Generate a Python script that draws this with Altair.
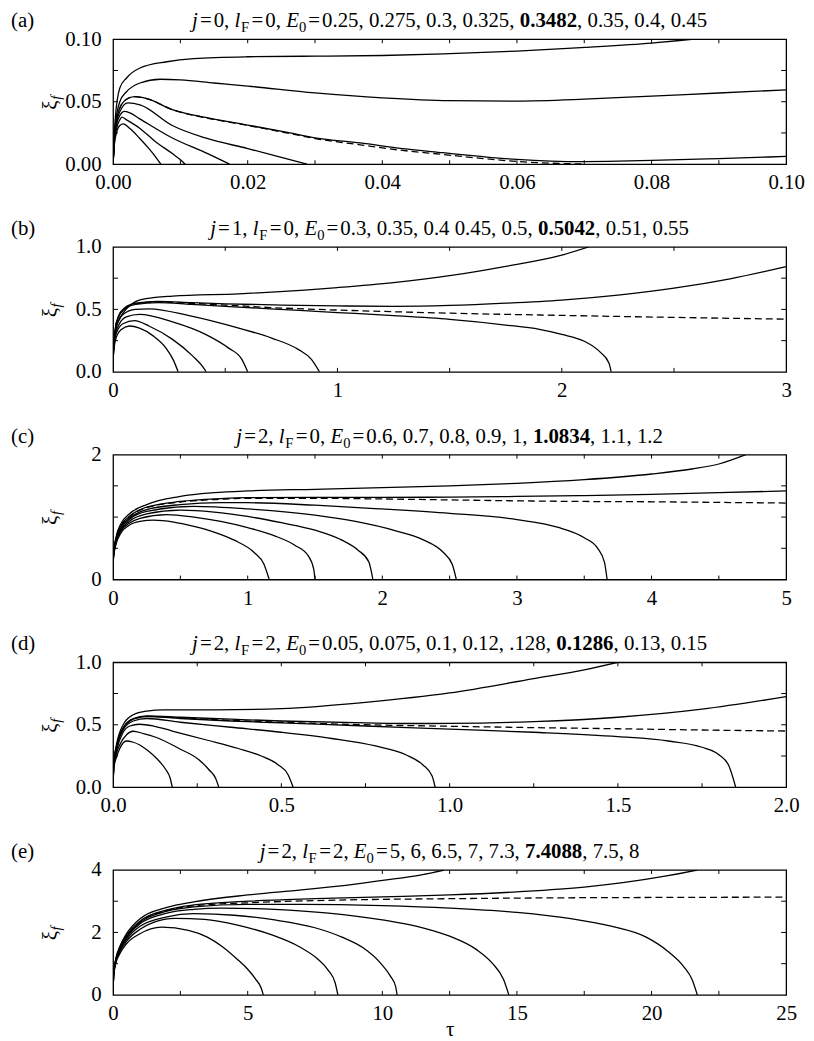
import altair as alt
import pandas as pd

FONT = "Liberation Serif, Times New Roman, Times, serif"
W, H = 679, 126
FS = 21

# ---------------- panel (a): j=0, lF=0 ----------------
a_t_0250 = [0, 0.0002, 0.0005, 0.001, 0.0015, 0.0025, 0.0039, 0.0054, 0.0065, 0.0071]
a_x_0250 = [0, 0.016, 0.025, 0.031, 0.0323, 0.0285, 0.021, 0.012, 0.0045, 0]
a_t_0275 = [0, 0.0002, 0.0005, 0.001, 0.0013, 0.002, 0.0039, 0.0063, 0.0088, 0.0100, 0.0107]
a_x_0275 = [0, 0.018, 0.028, 0.0355, 0.0376, 0.0355, 0.029, 0.018, 0.0085, 0.0035, 0]
a_t_0300 = [0, 0.0002, 0.0005, 0.001, 0.0017, 0.0025, 0.0039, 0.0088, 0.0137, 0.016, 0.0173]
a_x_0300 = [0, 0.02, 0.031, 0.039, 0.0423, 0.041, 0.0365, 0.021, 0.0093, 0.0035, 0]
a_t_0325 = [0, 0.0002, 0.0005, 0.001, 0.0022, 0.004, 0.0088, 0.0137, 0.02, 0.025, 0.0288]
a_x_0325 = [0, 0.021, 0.033, 0.042, 0.049, 0.0475, 0.031, 0.021, 0.0125, 0.0055, 0]
a_t_3482 = [0, 0.0002, 0.0005, 0.001, 0.002, 0.0032, 0.005, 0.0088, 0.0137, 0.02, 0.0263, 0.03, 0.0367, 0.043, 0.049, 0.055, 0.06, 0.065, 0.07]
a_x_3482 = [0, 0.022, 0.035, 0.045, 0.052, 0.054, 0.0525, 0.0437, 0.0372, 0.031, 0.0245, 0.0205, 0.0155, 0.011, 0.0078, 0.0045, 0.0022, 0.0008, 0.0002]
a_t_0350 = [0, 0.0002, 0.0005, 0.001, 0.002, 0.0032, 0.005, 0.0088, 0.0137, 0.02, 0.0263, 0.03, 0.0367, 0.043, 0.049, 0.055, 0.06, 0.065, 0.07, 0.075, 0.08, 0.09, 0.1]
a_x_0350 = [0, 0.022, 0.035, 0.045, 0.052, 0.054, 0.0525, 0.0437, 0.0374, 0.0313, 0.025, 0.021, 0.017, 0.0125, 0.0092, 0.006, 0.0038, 0.0025, 0.0021, 0.0024, 0.003, 0.0045, 0.0062]
a_t_0400 = [0, 0.0003, 0.001, 0.002, 0.004, 0.007, 0.01, 0.015, 0.02, 0.03, 0.04, 0.05, 0.06, 0.07, 0.08, 0.09, 0.1]
a_x_0400 = [0, 0.03, 0.05, 0.058, 0.065, 0.068, 0.0675, 0.065, 0.0625, 0.057, 0.053, 0.0508, 0.0505, 0.052, 0.0545, 0.057, 0.0595]
a_t_0450 = [0, 0.0003, 0.001, 0.002, 0.004, 0.008, 0.012, 0.02, 0.03, 0.04, 0.05, 0.06, 0.07, 0.08, 0.086]
a_x_0450 = [0, 0.035, 0.061, 0.069, 0.077, 0.082, 0.0845, 0.086, 0.0865, 0.087, 0.0885, 0.0905, 0.0935, 0.097, 0.1]

# ---------------- panel (b): j=1, lF=0 ----------------
b_t_0300 = [0, 0.002, 0.015, 0.037, 0.074, 0.118, 0.177, 0.236, 0.27, 0.29]
b_x_0300 = [0, 0.15, 0.28, 0.34, 0.367, 0.35, 0.29, 0.19, 0.09, 0]
b_t_0350 = [0, 0.002, 0.015, 0.044, 0.096, 0.162, 0.265, 0.353, 0.398, 0.415]
b_x_0350 = [0, 0.16, 0.31, 0.385, 0.41, 0.365, 0.26, 0.13, 0.045, 0]
b_t_0400 = [0, 0.002, 0.01, 0.03, 0.059, 0.118, 0.265, 0.412, 0.515, 0.574, 0.6]
b_x_0400 = [0, 0.17, 0.3, 0.39, 0.44, 0.46, 0.4, 0.3, 0.19, 0.1, 0]
b_t_0450 = [0, 0.002, 0.01, 0.025, 0.044, 0.1, 0.162, 0.339, 0.56, 0.707, 0.825, 0.884, 0.92]
b_x_0450 = [0, 0.18, 0.32, 0.41, 0.46, 0.5, 0.505, 0.45, 0.35, 0.27, 0.18, 0.1, 0]
b_t_0500 = [0, 0.002, 0.01, 0.025, 0.05, 0.1, 0.2, 0.35, 0.5, 0.7, 0.85, 1.0, 1.25, 1.5, 1.75, 1.9, 2.0, 2.1, 2.17, 2.21, 2.22]
b_x_0500 = [0, 0.19, 0.34, 0.44, 0.5, 0.54, 0.555, 0.54, 0.525, 0.505, 0.49, 0.475, 0.45, 0.42, 0.375, 0.34, 0.3, 0.245, 0.16, 0.07, 0]
b_t_5042 = [0, 0.002, 0.01, 0.025, 0.05, 0.1, 0.2, 0.35, 0.5, 0.7, 1.0, 1.5, 2.0, 2.5, 3.0]
b_x_5042 = [0, 0.19, 0.345, 0.445, 0.505, 0.545, 0.56, 0.548, 0.535, 0.515, 0.495, 0.47, 0.452, 0.436, 0.422]
b_t_0510 = [0, 0.002, 0.01, 0.025, 0.05, 0.1, 0.2, 0.35, 0.5, 0.75, 1.0, 1.25, 1.5, 1.75, 2.0, 2.25, 2.5, 2.75, 3.0]
b_x_0510 = [0, 0.19, 0.35, 0.45, 0.51, 0.55, 0.565, 0.555, 0.545, 0.535, 0.528, 0.525, 0.532, 0.55, 0.575, 0.615, 0.67, 0.745, 0.842]
b_t_0550 = [0, 0.002, 0.007, 0.022, 0.044, 0.088, 0.147, 0.265, 0.56, 0.854, 1.0, 1.25, 1.5, 1.75, 2.0, 2.12]
b_x_0550 = [0, 0.2, 0.3, 0.4, 0.47, 0.55, 0.586, 0.607, 0.625, 0.655, 0.675, 0.715, 0.77, 0.845, 0.935, 1.0]

# ---------------- panel (c): j=2, lF=0 ----------------
c_t_060 = [0, 0.003, 0.02, 0.06, 0.12, 0.2, 0.3, 0.45, 0.6, 0.75, 0.9, 1.05, 1.12, 1.16]
c_x_060 = [0, 0.35, 0.55, 0.75, 0.87, 0.93, 0.95, 0.92, 0.85, 0.76, 0.63, 0.43, 0.25, 0]
c_t_070 = [0, 0.003, 0.02, 0.06, 0.12, 0.2, 0.4, 0.6, 0.8, 1.0, 1.2, 1.35, 1.45, 1.49, 1.5]
c_x_070 = [0, 0.36, 0.57, 0.78, 0.9, 0.98, 1.04, 1.0, 0.93, 0.83, 0.7, 0.55, 0.38, 0.17, 0]
c_t_080 = [0, 0.003, 0.02, 0.06, 0.12, 0.25, 0.5, 0.75, 1.0, 1.25, 1.5, 1.7, 1.82, 1.9, 1.93]
c_x_080 = [0, 0.37, 0.59, 0.8, 0.93, 1.05, 1.11, 1.08, 1.01, 0.91, 0.79, 0.63, 0.47, 0.28, 0]
c_t_090 = [0, 0.003, 0.02, 0.06, 0.12, 0.25, 0.6, 1.0, 1.5, 1.8, 2.1, 2.3, 2.45, 2.52, 2.55]
c_x_090 = [0, 0.38, 0.6, 0.82, 0.96, 1.09, 1.17, 1.13, 1.03, 0.93, 0.78, 0.64, 0.44, 0.24, 0]
c_t_100 = [0, 0.003, 0.02, 0.06, 0.12, 0.25, 0.5, 0.8, 1.0, 1.5, 2.0, 2.5, 3.0, 3.3, 3.5, 3.6, 3.65, 3.67]
c_x_100 = [0, 0.39, 0.62, 0.84, 0.98, 1.12, 1.2, 1.23, 1.23, 1.19, 1.13, 1.06, 0.96, 0.84, 0.67, 0.5, 0.28, 0]
c_t_10834 = [0, 0.003, 0.02, 0.06, 0.12, 0.25, 0.5, 0.8, 1.0, 1.5, 2.0, 2.5, 3.0, 3.5, 4.0, 4.5, 5.0]
c_x_10834 = [0, 0.4, 0.63, 0.86, 1.0, 1.15, 1.24, 1.285, 1.3, 1.3, 1.29, 1.275, 1.26, 1.25, 1.245, 1.235, 1.225]
c_t_110 = [0, 0.003, 0.02, 0.06, 0.12, 0.25, 0.5, 0.8, 1.0, 1.5, 2.0, 2.5, 3.0, 3.5, 4.0, 4.5, 5.0]
c_x_110 = [0, 0.4, 0.64, 0.87, 1.01, 1.16, 1.25, 1.295, 1.31, 1.315, 1.315, 1.32, 1.33, 1.345, 1.365, 1.39, 1.42]
c_t_120 = [0, 0.003, 0.02, 0.06, 0.12, 0.25, 0.5, 0.75, 1.0, 1.5, 2.0, 2.5, 3.0, 3.5, 4.0, 4.3, 4.5, 4.7]
c_x_120 = [0, 0.42, 0.66, 0.9, 1.05, 1.2, 1.33, 1.39, 1.42, 1.445, 1.47, 1.5, 1.54, 1.6, 1.69, 1.77, 1.85, 2.0]

# ---------------- panel (d): j=2, lF=2 ----------------
d_t_0050 = [0, 0.002, 0.01, 0.02, 0.039, 0.06, 0.078, 0.1, 0.118, 0.14, 0.157, 0.17, 0.176]
d_x_0050 = [0, 0.15, 0.24, 0.31, 0.37, 0.36, 0.34, 0.3, 0.26, 0.2, 0.14, 0.07, 0]
d_t_0075 = [0, 0.002, 0.01, 0.02, 0.04, 0.059, 0.09, 0.127, 0.196, 0.255, 0.285, 0.305, 0.314]
d_x_0075 = [0, 0.16, 0.27, 0.34, 0.42, 0.448, 0.43, 0.4, 0.31, 0.22, 0.14, 0.07, 0]
d_t_0100 = [0, 0.002, 0.01, 0.03, 0.05, 0.078, 0.12, 0.176, 0.275, 0.372, 0.44, 0.49, 0.52, 0.535]
d_x_0100 = [0, 0.17, 0.29, 0.44, 0.49, 0.504, 0.49, 0.45, 0.38, 0.31, 0.25, 0.18, 0.1, 0]
d_t_0120 = [0, 0.002, 0.01, 0.03, 0.06, 0.1, 0.2, 0.35, 0.5, 0.65, 0.78, 0.87, 0.92, 0.948, 0.957]
d_x_0120 = [0, 0.18, 0.31, 0.46, 0.53, 0.55, 0.52, 0.48, 0.44, 0.39, 0.33, 0.26, 0.18, 0.09, 0]
d_t_0128 = [0, 0.002, 0.01, 0.03, 0.06, 0.1, 0.2, 0.35, 0.5, 0.75, 1.0, 1.25, 1.5, 1.65, 1.75, 1.8, 1.83, 1.85]
d_x_0128 = [0, 0.19, 0.32, 0.47, 0.545, 0.565, 0.55, 0.53, 0.515, 0.49, 0.465, 0.44, 0.405, 0.37, 0.32, 0.26, 0.17, 0]
d_t_1286 = [0, 0.002, 0.01, 0.03, 0.06, 0.1, 0.2, 0.35, 0.5, 0.75, 1.0, 1.25, 1.5, 1.75, 2.0]
d_x_1286 = [0, 0.19, 0.32, 0.47, 0.546, 0.567, 0.555, 0.535, 0.52, 0.5, 0.488, 0.477, 0.468, 0.458, 0.45]
d_t_0130 = [0, 0.002, 0.01, 0.03, 0.06, 0.1, 0.2, 0.35, 0.5, 0.75, 0.9, 1.0, 1.25, 1.5, 1.75, 2.0]
d_x_0130 = [0, 0.19, 0.325, 0.475, 0.55, 0.57, 0.56, 0.545, 0.53, 0.515, 0.51, 0.511, 0.525, 0.56, 0.625, 0.725]
d_t_0150 = [0, 0.002, 0.01, 0.03, 0.06, 0.1, 0.15, 0.3, 0.5, 0.75, 1.0, 1.25, 1.4, 1.5]
d_x_0150 = [0, 0.2, 0.34, 0.5, 0.58, 0.61, 0.62, 0.62, 0.63, 0.68, 0.755, 0.87, 0.94, 1.0]

# ---------------- panel (e): j=2, lF=2 ----------------
e_t_50 = [0, 0.02, 0.1, 0.245, 0.49, 0.98, 1.8, 2.8, 3.5, 4.05, 4.6, 5.0, 5.3, 5.5, 5.58]
e_x_50 = [0, 0.6, 1.0, 1.31, 1.63, 1.95, 2.17, 2.07, 1.85, 1.55, 1.15, 0.82, 0.5, 0.22, 0]
e_t_60 = [0, 0.02, 0.1, 0.25, 0.5, 1.0, 1.5, 2.3, 3.4, 4.7, 5.9, 6.9, 7.6, 8.0, 8.25, 8.35]
e_x_60 = [0, 0.62, 1.05, 1.38, 1.72, 2.1, 2.32, 2.45, 2.42, 2.22, 1.92, 1.55, 1.15, 0.78, 0.38, 0]
e_t_65 = [0, 0.02, 0.1, 0.25, 0.5, 1.0, 2.0, 3.0, 4.5, 6.0, 7.5, 8.5, 9.3, 9.9, 10.3, 10.5, 10.55]
e_x_65 = [0, 0.63, 1.07, 1.42, 1.78, 2.2, 2.5, 2.6, 2.55, 2.4, 2.15, 1.85, 1.5, 1.05, 0.6, 0.25, 0]
e_t_70 = [0, 0.02, 0.1, 0.25, 0.5, 1.0, 2.0, 3.0, 4.0, 6.0, 8.0, 10.0, 11.5, 12.5, 13.5, 14.1, 14.5, 14.7]
e_x_70 = [0, 0.64, 1.09, 1.46, 1.83, 2.28, 2.62, 2.74, 2.78, 2.74, 2.62, 2.4, 2.15, 1.88, 1.45, 1.0, 0.5, 0]
e_t_73 = [0, 0.02, 0.1, 0.25, 0.5, 1.0, 2.0, 3.0, 5.0, 7.0, 10.0, 12.5, 15.0, 17.0, 18.5, 19.8, 20.6, 21.2, 21.5, 21.7]
e_x_73 = [0, 0.65, 1.1, 1.48, 1.86, 2.32, 2.68, 2.82, 2.9, 2.9, 2.86, 2.78, 2.64, 2.44, 2.2, 1.85, 1.4, 0.9, 0.5, 0]
e_t_74088 = [0, 0.02, 0.1, 0.25, 0.5, 1.0, 2.0, 3.0, 5.0, 7.5, 10.0, 12.5, 15.0, 20.0, 25.0]
e_x_74088 = [0, 0.65, 1.11, 1.49, 1.88, 2.34, 2.7, 2.85, 2.95, 3.02, 3.06, 3.08, 3.1, 3.12, 3.13]
e_t_75 = [0, 0.02, 0.1, 0.25, 0.5, 1.0, 2.0, 3.0, 5.0, 7.5, 10.0, 12.5, 15.0, 17.5, 19.0, 20.5, 21.7]
e_x_75 = [0, 0.66, 1.12, 1.5, 1.9, 2.36, 2.72, 2.88, 3.0, 3.08, 3.14, 3.2, 3.3, 3.45, 3.6, 3.8, 4.0]
e_t_80 = [0, 0.02, 0.1, 0.25, 0.5, 1.0, 2.0, 3.0, 5.0, 7.0, 9.0, 10.5, 11.5, 12.3]
e_x_80 = [0, 0.68, 1.15, 1.55, 1.96, 2.44, 2.8, 2.98, 3.2, 3.36, 3.55, 3.72, 3.85, 4.0]

# ---------------- axes / ticks / headers ----------------
a_xticks = [0, 0.02, 0.04, 0.06, 0.08, 0.1]
a_yticks = [0, 0.05, 0.1]
a_xinner = [0.01, 0.02, 0.03, 0.04, 0.05, 0.06, 0.07, 0.08, 0.09]
a_yinner = [0.025, 0.05, 0.075]
b_xticks = [0, 1, 2, 3]
b_yticks = [0, 0.5, 1.0]
b_xinner = [0.5, 1, 1.5, 2, 2.5]
b_yinner = [0.25, 0.5, 0.75]
c_xticks = [0, 1, 2, 3, 4, 5]
c_yticks = [0, 1, 2]
c_xinner = [0.5, 1, 1.5, 2, 2.5, 3, 3.5, 4, 4.5]
c_yinner = [0.5, 1, 1.5]
d_xticks = [0, 0.5, 1.0, 1.5, 2.0]
d_yticks = [0, 0.5, 1.0]
d_xinner = [0.25, 0.5, 0.75, 1.0, 1.25, 1.5, 1.75]
d_yinner = [0.25, 0.5, 0.75]
e_xticks = [0, 5, 10, 15, 20, 25]
e_yticks = [0, 2, 4]
e_xinner = [2.5, 5, 7.5, 10, 12.5, 15, 17.5, 20, 22.5]
e_yinner = [1, 2, 3]

a_head = ["(a)", "0", "0", "0.25, 0.275, 0.3, 0.325,", "0.3482", ", 0.35, 0.4, 0.45"]
b_head = ["(b)", "1", "0", "0.3, 0.35, 0.4 0.45, 0.5,", "0.5042", ", 0.51, 0.55"]
c_head = ["(c)", "2", "0", "0.6, 0.7, 0.8, 0.9, 1,", "1.0834", ", 1.1, 1.2"]
d_head = ["(d)", "2", "2", "0.05, 0.075, 0.1, 0.12, .128,", "0.1286", ", 0.13, 0.15"]
e_head = ["(e)", "2", "2", "5, 6, 6.5, 7, 7.3,", "7.4088", ", 7.5, 8"]

# Times-style advance widths (em) used only to lay out the header pieces
WID = {"rm": {".": .25, ",": .25, " ": .25, "=": .564, "F": .556},
       "it": {"j": .278, "l": .278, "E": .611},
       "bf": {".": .25, ",": .25, " ": .25}}

HEAD_Y = -12


def text_width(s, kind, size):
    tab = WID["rm" if kind == "sub" else kind]
    return sum(tab.get(ch, 0.5) for ch in s) * size


def header_layers(head):
    tag, j, lf, pre, crit, post = head
    sub = FS * 0.7
    pieces = [("j", "it", 0), ("=", "rm", .1), (j + ",", "rm", .1),
              ("l", "it", .25), ("F", "sub", .03), ("=", "rm", .12), (lf + ",", "rm", .1),
              ("E", "it", .25), ("0", "sub", 0), ("=", "rm", .1), (pre, "rm", .1),
              (crit, "bf", .25), (post, "rm", 0)]
    xs, total = [], 0.0
    for txt, kind, gap in pieces:
        total += gap * FS
        xs.append(total)
        total += text_width(txt, kind, sub if kind == "sub" else FS)
    start = W / 2 - total / 2
    layers = []
    for (txt, kind, gap), x0 in zip(pieces, xs):
        props = dict(font=FONT, fontSize=FS, align="left", baseline="alphabetic", color="black")
        yy = HEAD_Y
        if kind == "it":
            props["fontStyle"] = "italic"
        elif kind == "bf":
            props["fontWeight"] = "bold"
        elif kind == "sub":
            props["fontSize"] = sub
            yy = HEAD_Y + 5
        layers.append(alt.Chart(pd.DataFrame({"t": [txt]})).mark_text(**props).encode(
            text="t:N", x=alt.value(start + x0), y=alt.value(yy)))
    layers.append(alt.Chart(pd.DataFrame({"t": [tag]})).mark_text(
        font=FONT, fontSize=FS, align="left", baseline="alphabetic", color="black").encode(
        text="t:N", x=alt.value(-103), y=alt.value(HEAD_Y)))
    # y-axis symbol xi_f (rotated)
    layers.append(alt.Chart(pd.DataFrame({"t": ["ξ"]})).mark_text(
        font=FONT, fontSize=FS, align="left", baseline="alphabetic", angle=270, color="black").encode(
        text="t:N", x=alt.value(-57), y=alt.value(H / 2 + 8)))
    layers.append(alt.Chart(pd.DataFrame({"t": ["f"]})).mark_text(
        font=FONT, fontSize=15, fontStyle="italic", align="left", baseline="alphabetic", angle=270,
        color="black").encode(text="t:N", x=alt.value(-53), y=alt.value(H / 2 - 2)))
    return layers


def panel(curves, xdom, ydom, xticks, yticks, xinner, yinner, xfmt, yfmt, head, xtitle=None):
    rows = []
    for k, (ts, xs, dashed) in enumerate(curves):
        for i, (t, v) in enumerate(zip(ts, xs)):
            rows.append({"tau": t, "xi": v, "c": k, "i": i, "dash": dashed})
    df = pd.DataFrame(rows)
    if xtitle:
        xax = alt.Axis(values=xticks, format=xfmt, labelFlush=False, labelOverlap=False,
                       labelPadding=8, title=xtitle, titlePadding=-5,
                       titleFont=FONT, titleFontSize=FS, titleFontWeight="normal")
    else:
        xax = alt.Axis(values=xticks, format=xfmt, labelFlush=False, labelOverlap=False,
                       labelPadding=8, title=None)
    X = alt.X("tau:Q", scale=alt.Scale(domain=xdom, nice=False, zero=False), axis=xax)
    Y = alt.Y("xi:Q", scale=alt.Scale(domain=ydom, nice=False, zero=False),
              axis=alt.Axis(values=yticks, format=yfmt, labelPadding=12, title=None))
    base = alt.Chart(df)
    solid = base.transform_filter("datum.dash == 0").mark_line(
        color="black", strokeWidth=1.3, clip=True, interpolate="monotone").encode(
        x=X, y=Y, detail="c:N", order="i:Q")
    dash = base.transform_filter("datum.dash == 1").mark_line(
        color="black", strokeWidth=1.3, strokeDash=[7, 4], clip=True, interpolate="monotone").encode(
        x=X, y=Y, detail="c:N", order="i:Q")
    xt = pd.DataFrame({"tau": xinner})
    yt = pd.DataFrame({"xi": yinner})
    t1 = alt.Chart(xt).mark_rule(color="black", strokeWidth=1).encode(x=X, y=alt.value(0), y2=alt.value(4))
    t2 = alt.Chart(xt).mark_rule(color="black", strokeWidth=1).encode(x=X, y=alt.value(H - 4), y2=alt.value(H))
    t3 = alt.Chart(yt).mark_rule(color="black", strokeWidth=1).encode(y=Y, x=alt.value(0), x2=alt.value(5))
    t4 = alt.Chart(yt).mark_rule(color="black", strokeWidth=1).encode(y=Y, x=alt.value(W - 5), x2=alt.value(W))
    return alt.layer(solid, dash, t1, t2, t3, t4, *header_layers(head)).properties(width=W, height=H)


pa = panel([(a_t_0250, a_x_0250, 0), (a_t_0275, a_x_0275, 0), (a_t_0300, a_x_0300, 0),
            (a_t_0325, a_x_0325, 0), (a_t_3482, a_x_3482, 1), (a_t_0350, a_x_0350, 0),
            (a_t_0400, a_x_0400, 0), (a_t_0450, a_x_0450, 0)],
           [0, 0.1], [0, 0.1], a_xticks, a_yticks, a_xinner, a_yinner, ".2f", ".2f", a_head)
pb = panel([(b_t_0300, b_x_0300, 0), (b_t_0350, b_x_0350, 0), (b_t_0400, b_x_0400, 0),
            (b_t_0450, b_x_0450, 0), (b_t_0500, b_x_0500, 0), (b_t_5042, b_x_5042, 1),
            (b_t_0510, b_x_0510, 0), (b_t_0550, b_x_0550, 0)],
           [0, 3], [0, 1], b_xticks, b_yticks, b_xinner, b_yinner, "d", ".1f", b_head)
pc = panel([(c_t_060, c_x_060, 0), (c_t_070, c_x_070, 0), (c_t_080, c_x_080, 0),
            (c_t_090, c_x_090, 0), (c_t_100, c_x_100, 0), (c_t_10834, c_x_10834, 1),
            (c_t_110, c_x_110, 0), (c_t_120, c_x_120, 0)],
           [0, 5], [0, 2], c_xticks, c_yticks, c_xinner, c_yinner, "d", "d", c_head)
pd_ = panel([(d_t_0050, d_x_0050, 0), (d_t_0075, d_x_0075, 0), (d_t_0100, d_x_0100, 0),
             (d_t_0120, d_x_0120, 0), (d_t_0128, d_x_0128, 0), (d_t_1286, d_x_1286, 1),
             (d_t_0130, d_x_0130, 0), (d_t_0150, d_x_0150, 0)],
            [0, 2], [0, 1], d_xticks, d_yticks, d_xinner, d_yinner, ".1f", ".1f", d_head)
pe = panel([(e_t_50, e_x_50, 0), (e_t_60, e_x_60, 0), (e_t_65, e_x_65, 0),
            (e_t_70, e_x_70, 0), (e_t_73, e_x_73, 0), (e_t_74088, e_x_74088, 1),
            (e_t_75, e_x_75, 0), (e_t_80, e_x_80, 0)],
           [0, 25], [0, 4], e_xticks, e_yticks, e_xinner, e_yinner, "d", "d", e_head, xtitle="τ")

chart = alt.vconcat(pa, pb, pc, pd_, pe, spacing=23.5).properties(
    padding={"left": 2, "top": -3, "right": 0, "bottom": 0}
).configure_view(stroke="black", strokeWidth=1.3).configure_axis(
    domain=False, ticks=False, grid=False, labelFont=FONT, labelFontSize=FS,
    labelColor="black", titleColor="black"
)

chart.save("out.html", embed_options={"renderer": "svg", "actions": False})
